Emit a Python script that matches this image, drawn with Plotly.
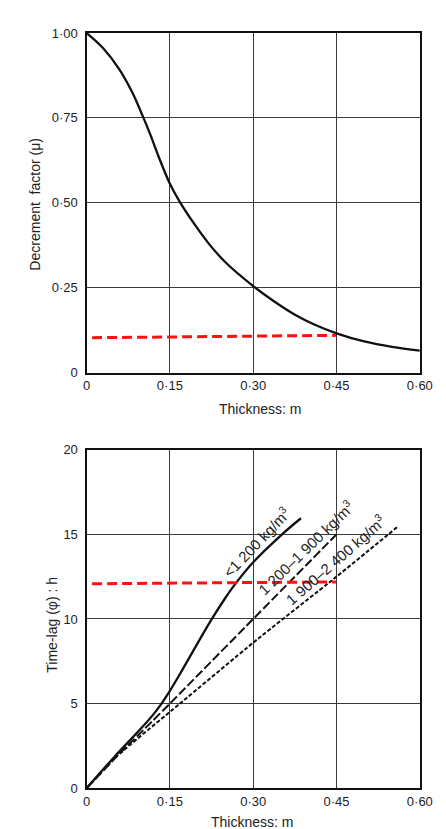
import plotly.graph_objects as go

# ---------------- data ----------------
# Top chart: decrement factor vs thickness
thickness_dec = [0, 0.030, 0.059, 0.082, 0.1025, 0.115, 0.13, 0.149, 0.167, 0.193,
                 0.22, 0.25, 0.30, 0.336, 0.376, 0.41, 0.45, 0.50, 0.55, 0.60]
decrement = [1.0, 0.955, 0.893, 0.826, 0.75, 0.70, 0.635, 0.56, 0.505, 0.44,
             0.38, 0.325, 0.255, 0.212, 0.170, 0.142, 0.116, 0.092, 0.076, 0.065]

ref_top_x = [0.010, 0.449]
ref_top_y = [0.103, 0.110]

# Bottom chart: time lag vs thickness for three density ranges
light_x = [0, 0.05, 0.10, 0.12, 0.135, 0.15, 0.17, 0.19, 0.2256, 0.248, 0.2685, 0.30, 0.352, 0.386]
light_y = [0, 1.85, 3.6, 4.35, 5.0, 5.75, 6.85, 8.0, 10.0, 11.15, 12.1, 13.35, 15.0, 15.95]

medium_x = [0, 0.055, 0.118, 0.15, 0.30, 0.45]
medium_y = [0, 1.9, 3.95, 5.0, 10.0, 15.0]

heavy_x = [0, 0.055, 0.168, 0.30, 0.45, 0.559]
heavy_y = [0, 1.9, 5.0, 8.6, 12.5, 15.42]

ref_bot_x = [0.010, 0.449]
ref_bot_y = [12.08, 12.19]

series_labels = ["&lt;1 200 kg/m<sup>3</sup>",
                 "1 200–1 900 kg/m<sup>3</sup>",
                 "1 900–2 400 kg/m<sup>3</sup>"]
label_x = [0.305, 0.393, 0.447]
label_y = [14.6, 14.25, 13.5]
label_angle = [-46, -44, -41]

x_tickvals = [0, 0.15, 0.30, 0.45, 0.60]
x_ticktext = ["0", "0·15", "0·30", "0·45", "0·60"]
dec_tickvals = [0, 0.25, 0.5, 0.75, 1.0]
dec_ticktext = ["0", "0·25", "0·50", "0·75", "1·00"]
lag_tickvals = [0, 5, 10, 15, 20]
lag_ticktext = ["0", "5", "10", "15", "20"]

# ---------------- figure ----------------
FONT = "Liberation Sans, Arial, sans-serif"
TXT = "#222222"

fig = go.Figure()

fig.add_trace(go.Scatter(x=thickness_dec, y=decrement, mode="lines",
                         line=dict(color="#111111", width=2.3, shape="spline", smoothing=1.0),
                         xaxis="x", yaxis="y", showlegend=False, hoverinfo="skip"))
fig.add_trace(go.Scatter(x=ref_top_x, y=ref_top_y, mode="lines",
                         line=dict(color="#ff1010", width=3, dash="10px,5px"),
                         xaxis="x", yaxis="y", showlegend=False, hoverinfo="skip"))

fig.add_trace(go.Scatter(x=light_x, y=light_y, mode="lines",
                         line=dict(color="#111111", width=2.3, shape="spline", smoothing=1.0),
                         xaxis="x2", yaxis="y2", showlegend=False, hoverinfo="skip"))
fig.add_trace(go.Scatter(x=medium_x, y=medium_y, mode="lines",
                         line=dict(color="#111111", width=2, dash="9px,3px", shape="spline", smoothing=0.5),
                         xaxis="x2", yaxis="y2", showlegend=False, hoverinfo="skip"))
fig.add_trace(go.Scatter(x=heavy_x, y=heavy_y, mode="lines",
                         line=dict(color="#111111", width=2, dash="4px,2px", shape="spline", smoothing=0.5),
                         xaxis="x2", yaxis="y2", showlegend=False, hoverinfo="skip"))
fig.add_trace(go.Scatter(x=ref_bot_x, y=ref_bot_y, mode="lines",
                         line=dict(color="#ff1010", width=3, dash="10px,5px"),
                         xaxis="x2", yaxis="y2", showlegend=False, hoverinfo="skip"))

axis_common = dict(showgrid=True, gridcolor="#3a3a3a", gridwidth=1.4,
                   showline=True, linecolor="#111111", linewidth=2.2, mirror=True,
                   zeroline=False, ticks="", fixedrange=True,
                   tickfont=dict(family=FONT, size=13, color=TXT))

XDOM = [77.5 / 446, 424 / 446]
fig.update_layout(
    width=446, height=829, autosize=False,
    margin=dict(l=0, r=0, t=0, b=0),
    paper_bgcolor="white", plot_bgcolor="white",
    xaxis=dict(domain=XDOM, range=[0, 0.6], tickvals=x_tickvals, ticktext=x_ticktext,
               anchor="y", **axis_common),
    yaxis=dict(domain=[1 - 364.3 / 829, 1 - 18.3 / 829], range=[0, 1],
               tickvals=dec_tickvals, ticktext=dec_ticktext, anchor="x",
               ticklabelstandoff=4, **axis_common),
    xaxis2=dict(domain=XDOM, range=[0, 0.6], tickvals=x_tickvals, ticktext=x_ticktext,
                anchor="y2", **axis_common),
    yaxis2=dict(domain=[1 - 787.5 / 829, 1 - 442.7 / 829], range=[0, 20],
                tickvals=lag_tickvals, ticktext=lag_ticktext, anchor="x2",
                ticklabelstandoff=4, **axis_common),
)

annotations = []
for t, lx, ly, ang in zip(series_labels, label_x, label_y, label_angle):
    annotations.append(dict(text=t, x=lx, y=ly, xref="x2", yref="y2", showarrow=False,
                            textangle=ang, xanchor="center", yanchor="middle",
                            font=dict(family=FONT, size=15, color=TXT)))

title_font = dict(family=FONT, size=14, color=TXT)
annotations += [
    dict(text="Thickness: m", x=258 / 446, y=1 - 401 / 829, xref="paper", yref="paper",
         showarrow=False, xanchor="center", yanchor="middle", font=title_font),
    dict(text="Thickness: m", x=250 / 446, y=1 - 822 / 829, xref="paper", yref="paper",
         showarrow=False, xanchor="center", yanchor="middle", font=title_font),
    dict(text="Decrement  factor (μ)", x=23 / 446, y=1 - 193 / 829, xref="paper", yref="paper",
         showarrow=False, textangle=-90, xanchor="center", yanchor="middle", font=title_font),
    dict(text="Time-lag (φ) : h", x=41.5 / 446, y=1 - 621 / 829, xref="paper", yref="paper",
         showarrow=False, textangle=-90, xanchor="center", yanchor="middle", font=title_font),
]
fig.update_layout(annotations=annotations)

fig.write_html("out.html")
